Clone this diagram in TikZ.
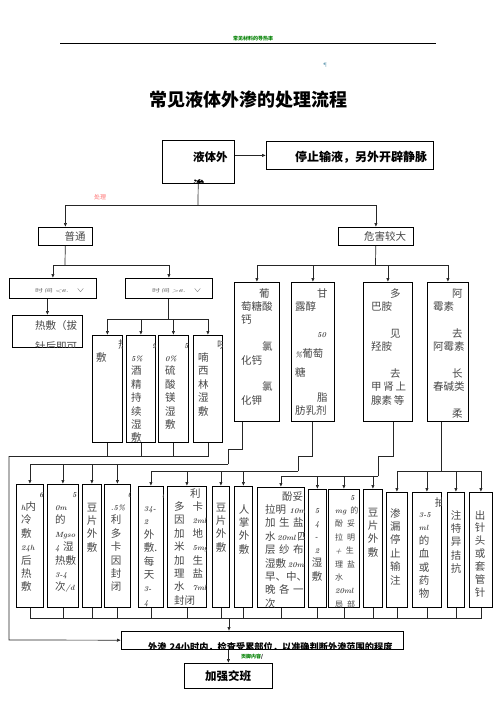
\documentclass[tikz,border=0pt]{standalone}
\usepackage{fontspec}
\usepackage{graphicx}
\newfontfamily\cjk{Noto Sans CJK SC}
\usetikzlibrary{arrows.meta}

\newcommand\latn[1]{{\rmfamily\bfseries\itshape\fontsize{7.5}{9}\selectfont #1}}
\newcommand\boxtext[5][]{%
  \begin{scope}
    \clip (#2.south west) rectangle (#2.north east);
    \node[txt,#1] (#2t) at (#3,#4) {#5};
  \end{scope}}

\tikzset{
  box/.style={draw=black, line width=0.8pt, inner sep=0pt, anchor=north west},
  txt/.style={font=\cjk\fontsize{10.5}{13.4}\selectfont, text=black!72, inner sep=0pt,
    anchor=base west, align=left, text width=80pt},
  lbl/.style={font=\cjk\fontsize{10.5}{12}\selectfont, text=black!72, inner sep=0pt},
  con/.style={draw=black!85, line width=0.7pt},
  arr/.style={con, -{Latex[length=4pt,width=3.4pt]}}
}

\begin{document}
\begin{tikzpicture}[x=1pt,y=-1pt]
  \useasboundingbox (0,0) rectangle (496,702);

  % head of page
  \node[font=\cjk\bfseries\fontsize{5}{6}\selectfont, text=green!50!black] (head) at (253,39) {常见材料的导热率};
  \draw[line width=0.8pt] (60,43) -- (436,43);
  \node[font=\fontsize{5}{6}\selectfont, text=cyan!40!gray] (mark) at (325,65) {¶};
  \node[font=\cjk\bfseries\fontsize{18}{20}\selectfont] (title) at (248,100) {常见液体外渗的处理流程};

  % first levels
  \node[box, minimum width=72pt, minimum height=43pt] (root) at (162,140) {};
  \boxtext[font=\cjk\bfseries\fontsize{11.5}{28}\selectfont, text=black]{root}{193}{161.4}{液体外\\渗}
  \node[box, minimum width=167pt, minimum height=28pt] (stop) at (266,141) {};
  \node[font=\cjk\bfseries\fontsize{12}{14}\selectfont, anchor=west, inner sep=0pt] (stopt) at (295,157) {停止输液，另外开辟静脉};
  \node[font=\cjk\fontsize{6}{7}\selectfont, text=red!55] (deal) at (100,197) {处理};

  \node[box, minimum width=54pt, minimum height=18pt] (norm) at (38,227) {};
  \node[lbl] (normt) at (75,236) {普通};
  \node[box, minimum width=75pt, minimum height=18pt] (severe) at (338,227) {};
  \node[lbl] (severet) at (385,236) {危害较大};

  \node[box, minimum width=87pt, minimum height=20pt] (a1) at (9,278) {};
  \node[lbl, font=\cjk\fontsize{8}{9}\selectfont, text=black!60, anchor=west] (a1t) at (35,291) {\scalebox{1}[0.6]{时 间 \latn{<6.}\quad ∨}};
  \node[box, minimum width=87pt, minimum height=20pt] (a2) at (125,278) {};
  \node[lbl, font=\cjk\fontsize{8}{9}\selectfont, text=black!60, anchor=west] (a2t) at (152,291) {\scalebox{1}[0.6]{时 间 \latn{>6.}\quad ∨}};

  \node[box, minimum width=70pt, minimum height=32pt] (hot) at (12,315) {};
  \boxtext{hot}{35}{329}{热敷（拔\\[7.6pt]针后即可}

  % wet compress
  \node[box, minimum width=30pt, minimum height=107pt] (b1) at (92,335) {};
  \boxtext{b1}{96}{348}{\hspace*{22pt}热\\敷}
  \node[box, minimum width=29pt, minimum height=107pt] (b2) at (126,335) {};
  \boxtext{b2}{131}{348}{\hspace*{21pt}\latn{9}\\\latn{5\%}\\酒\\精\\持\\续\\湿\\敷}
  \node[box, minimum width=30pt, minimum height=107pt] (b3) at (158,335) {};
  \boxtext{b3}{165}{348}{\hspace*{19pt}\latn{5}\\\latn{0\%}\\硫\\酸\\镁\\湿\\敷}
  \node[box, minimum width=29pt, minimum height=107pt] (b4) at (193,335) {};
  \boxtext{b4}{198}{348}{\hspace*{19pt}呋\\喃\\西\\林\\湿\\敷}

  % drug groups
  \node[box, minimum width=45pt, minimum height=139pt] (c1) at (234,282) {};
  \boxtext{c1}{241}{297}{\hspace*{18pt}葡\\萄糖酸\\钙\\\mbox{}\\\hspace*{21pt}氯\\化钙\\\mbox{}\\\hspace*{21pt}氯\\化钾}
  \node[box, minimum width=43pt, minimum height=139pt] (c2) at (291,282) {};
  \boxtext{c2}{295}{297}{\hspace*{22pt}甘\\露醇\\\mbox{}\\\hspace*{22pt}\latn{50}\\[7pt]\latn{\%}葡萄\\[5pt]糖\\[12pt]\hspace*{22pt}脂\\肪乳剂}
  \node[box, minimum width=49pt, minimum height=139pt] (c3) at (363,282) {};
  \boxtext{c3}{371}{297}{\hspace*{19pt}多\\巴胺\\\mbox{}\\\hspace*{19pt}见\\羟胺\\\mbox{}\\\hspace*{19pt}去\\甲\,肾\,上\\腺素\,等}
  \node[box, minimum width=41pt, minimum height=139pt] (c4) at (427,282) {};
  \boxtext{c4}{433}{297}{\hspace*{19pt}阿\\霉素\\\mbox{}\\\hspace*{19pt}去\\阿霉素\\\mbox{}\\\hspace*{19pt}长\\春碱类\\\mbox{}\\\hspace*{19pt}柔}

  % measures
  \node[box, minimum width=27pt, minimum height=123pt] (d1) at (16,484) {};
  \boxtext{d1}{21}{497}{\hspace*{18pt}\latn{6}\\\latn{h}内\\冷\\敷\\\latn{24h}\\后\\热\\敷}
  \node[box, minimum width=31pt, minimum height=123pt] (d2) at (47,484) {};
  \boxtext{d2}{55}{497}{\hspace*{17pt}\latn{5}\\\latn{0m}\\的\\\latn{Mgso}\\\latn{4} 湿\\热敷\\\latn{3-4}\\次\latn{/d}}
  \node[box, minimum width=19pt, minimum height=123pt] (d3) at (82,484) {};
  \boxtext{d3}{86.75}{511}{豆\\片\\外\\敷}
  \node[box, minimum width=26pt, minimum height=123pt] (d4) at (104,484) {};
  \boxtext{d4}{110.75}{497}{\hspace*{17pt}\latn{0}\\\latn{.5\%}\\利\\多\\卡\\因\\封\\闭}
  \node[box, minimum width=25pt, minimum height=121pt] (d5) at (138,486) {};
  \boxtext{d5}{143.75}{498}{\hspace*{18pt}\latn{6}\\\latn{34-}\\\latn{2}\\外\\敷.\\每\\天\\\latn{3-}\\\latn{4}}
  \node[box, minimum width=39pt, minimum height=121pt] (d6) at (167,486) {};
  \boxtext{d6}{174}{497}{\hspace*{16pt}利\\多\hspace{8pt}卡\\因\hspace{8pt}\latn{2ml}\\加\hspace{8pt}地\\米\hspace{8pt}\latn{5mg}\\加\hspace{8pt}生\\理\hspace{8pt}盐\\水\hspace{8pt}\latn{7ml}\\封闭}
  \node[box, minimum width=17pt, minimum height=121pt] (d7) at (212,486) {};
  \boxtext{d7}{215.75}{511}{豆\\片\\外\\敷}
  \node[box, minimum width=18pt, minimum height=121pt] (d8) at (234,486) {};
  \boxtext{d8}{238.75}{513}{人\\掌\\外\\敷}
  \node[box, minimum width=47pt, minimum height=120pt] (d9) at (257,487) {};
  \boxtext{d9}{265}{500}{\hspace*{17pt}酚妥\\拉明 \latn{10mg}\\加\hspace{3.5pt}生\hspace{3.5pt}盐\\水\,\latn{20ml}\,四\\层\hspace{3.5pt}纱\hspace{3.5pt}布\\湿敷\,\latn{20min}\\早、中、\\晚\hspace{3.5pt}各\hspace{3.5pt}一\\次}
  \node[box, minimum width=18pt, minimum height=118pt] (d10) at (308,489) {};
  \boxtext{d10}{311.75}{513}{\hspace*{3pt}\latn{5}\\\hspace*{3pt}\latn{4}\\\hspace*{3pt}\latn{-}\\\hspace*{3pt}\latn{2}\\湿\\敷}
  \node[box, minimum width=31pt, minimum height=118pt] (d11) at (328,489) {};
  \boxtext[font=\cjk\fontsize{8}{13.4}\selectfont]{d11}{335}{500}{\hspace*{15pt}\latn{5}\\\latn{mg}\hspace{4pt}的\\酚\hspace{4pt}妥\\拉\hspace{4pt}明\\\latn{+}\hspace{4pt}生\\理\hspace{4pt}盐\\水\\\latn{20ml}\\局\hspace{4pt}部}
  \node[box, minimum width=19pt, minimum height=118pt] (d12) at (363,489) {};
  \boxtext{d12}{367.75}{516}{豆\\片\\外\\敷}
  \node[box, minimum width=21pt, minimum height=115pt] (d13) at (386,492) {};
  \boxtext{d13}{390}{517}{渗\\漏\\停\\止\\输\\注}
  \node[box, minimum width=29pt, minimum height=115pt] (d14) at (412,492) {};
  \boxtext{d14}{418.75}{506}{\hspace*{16pt}抽\\[-2pt]\latn{3-5}\\\latn{ml}\\的\\血\\或\\药\\物}
  \node[box, minimum width=17pt, minimum height=115pt] (d15) at (447,492) {};
  \boxtext{d15}{450.75}{519}{注\\特\\异\\拮\\抗}
  \node[box, minimum width=23pt, minimum height=115pt] (d16) at (469,492) {};
  \boxtext[font=\cjk\fontsize{10.5}{12.9}\selectfont]{d16}{474.75}{519}{出\\针\\头\\或\\套\\管\\针}

  % bottom
  \node[box, minimum width=282pt, minimum height=18pt] (e) at (121,631) {};
  \boxtext[font=\cjk\bfseries\fontsize{9.2}{11}\selectfont, text=black, text width=300pt]{e}{148}{650}{外渗 24小时内，检查受累部位，以准确判断外渗范围的程度}
  \node[font=\cjk\bfseries\fontsize{5}{6}\selectfont, text=green!50!black] (foot) at (252,657) {页脚内容\textcolor{black}{/}};
  \node[box, minimum width=88pt, minimum height=25pt] (f) at (184,663) {};
  \node[font=\cjk\bfseries\fontsize{11.5}{13}\selectfont, inner sep=0pt] (ft) at (228,676) {加强交班};

  % junctions
  \coordinate (j0) at (198,205);
  \coordinate (j1) at (65,265);
  \coordinate (j2) at (168,319);
  \coordinate (j3) at (375.5,265);
  \coordinate (j4) at (9,456);
  \coordinate (j5) at (9,640);
  \coordinate (k1) at (242,449);
  \coordinate (k2) at (228,464);
  \coordinate (k3) at (312,456);
  \coordinate (k4) at (298,471);
  \coordinate (k5) at (393,456);
  \coordinate (k6) at (378,476);
  \coordinate (k7) at (441,471);
  \coordinate (k8) at (229,618);

  \draw[arr] (root.east |- stop) -- (stop);
  \draw[con] (root) -- (j0);
  \draw[arr] (j0) -| (norm);
  \draw[arr] (j0) -| (severe);

  \draw[con] (norm) -- (j1);
  \draw[arr] (j1) -| (a1);
  \draw[arr] (j1) -| (a2);
  \draw[arr] (a1.south -| hot) -- (hot);
  \draw[con] (a2.south -| j2) -- (j2);
  \draw[arr] (j2) -| (b1);
  \draw[arr] (j2) -| (b2);
  \draw[arr] (j2) -| (b3);
  \draw[arr] (j2) -| (b4);

  \draw[con] (severe) -- (j3);
  \draw[arr] (j3) -| (c1);
  \draw[arr] (j3) -| (c2);
  \draw[arr] (j3) -| (c3);
  \draw[arr] (j3) -| (c4);

  \draw[con] (b1) |- (j4);
  \draw[con] (b2) |- (j4);
  \draw[con] (b3) |- (j4);
  \draw[con] (b4) |- (j4);
  \draw[arr] (j4) -- (j5) -- (e);

  \draw[con] (c1.south -| k1) -- (k1) -| (k2);
  \draw[arr] (k2) -| (d1);
  \draw[arr] (k2) -| (d2);
  \draw[arr] (k2) -| (d3);
  \draw[arr] (k2) -| (d4);
  \draw[con] (c2.south -| k3) -- (k3) -| (k4);
  \draw[arr] (k4) -| (d5);
  \draw[arr] (k4) -| (d6);
  \draw[arr] (k4) -| (d7);
  \draw[arr] (k4) -| (d8);
  \draw[con] (c3.south -| k5) -- (k5) -| (k6);
  \draw[arr] (k6) -| (d9);
  \draw[arr] (k6) -| (d10);
  \draw[arr] (k6) -| (d11);
  \draw[arr] (k6) -| (d12);
  \draw[con] (c4.south -| k7) -- (k7);
  \draw[arr] (k7) -| (d13);
  \draw[arr] (k7) -| (d14);
  \draw[arr] (k7) -| (d15);
  \draw[arr] (k7) -| (d16);

  \draw[con] (d1) |- (k8);
  \draw[con] (d2) |- (k8);
  \draw[con] (d3) |- (k8);
  \draw[con] (d4) |- (k8);
  \draw[con] (d5) |- (k8);
  \draw[con] (d6) |- (k8);
  \draw[con] (d7) |- (k8);
  \draw[con] (d8) |- (k8);
  \draw[con] (d9) |- (k8);
  \draw[con] (d10) |- (k8);
  \draw[con] (d11) |- (k8);
  \draw[con] (d12) |- (k8);
  \draw[con] (d13) |- (k8);
  \draw[con] (d14) |- (k8);
  \draw[con] (d15) |- (k8);
  \draw[con] (d16) |- (k8);
  \draw[arr] (k8) -- (k8 |- e.north);
  \draw[arr] (e.south -| f) -- (f);
\end{tikzpicture}
\end{document}
